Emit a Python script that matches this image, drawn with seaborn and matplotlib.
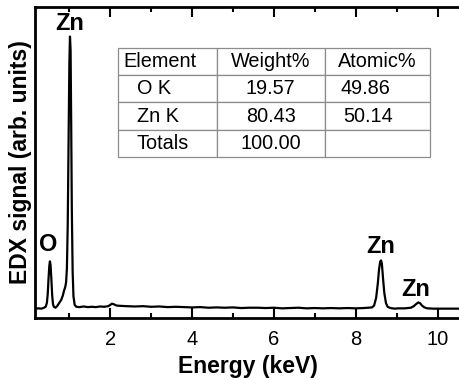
import numpy as np
import pandas as pd
import matplotlib
matplotlib.use("Agg")
import matplotlib.pyplot as plt
from matplotlib.ticker import MultipleLocator
import seaborn as sns

# ---- data ----
energy = [0.18, 0.25, 0.32, 0.38, 0.42, 0.45, 0.47, 0.49, 0.51, 0.525, 0.54, 0.56,
          0.58, 0.60, 0.62, 0.66, 0.70, 0.75, 0.80, 0.84, 0.87, 0.90, 0.92, 0.94,
          0.96, 0.98, 1.00, 1.015, 1.03, 1.045, 1.06, 1.08, 1.10, 1.13, 1.17, 1.25,
          1.35, 1.45, 1.55, 1.65, 1.75, 1.85, 1.95, 2.00, 2.04, 2.09, 2.15, 2.25,
          2.40, 2.60, 2.80, 3.00, 3.20, 3.40, 3.60, 3.80, 4.00, 4.20, 4.40, 4.60,
          4.80, 5.00, 5.20, 5.40, 5.60, 5.80, 6.00, 6.20, 6.40, 6.60, 6.80, 7.00,
          7.20, 7.40, 7.60, 7.80, 8.00, 8.20, 8.30, 8.40, 8.45, 8.50, 8.54, 8.57,
          8.60, 8.62, 8.64, 8.67, 8.70, 8.74, 8.78, 8.85, 8.95, 9.05, 9.20, 9.35,
          9.42, 9.48, 9.53, 9.57, 9.62, 9.68, 9.75, 9.90, 10.10, 10.30, 10.55]
intensity = [30, 31, 30, 33, 36, 48, 75, 125, 168, 182, 170, 125,
             72, 45, 36, 33, 38, 48, 58, 72, 88, 100, 115, 160,
             300, 560, 820, 905, 860, 620, 350, 150, 70, 42, 36, 35,
             37, 35, 36, 35, 37, 36, 38, 42, 46, 44, 40, 39,
             38, 37, 38, 36, 37, 35, 36, 35, 34, 35, 33, 34,
             33, 34, 32, 33, 33, 32, 33, 31, 32, 33, 31, 32,
             31, 32, 31, 32, 31, 32, 33, 34, 40, 65, 110, 155,
             182, 185, 175, 125, 80, 48, 36, 32, 30, 31, 31, 33,
             38, 45, 50, 48, 40, 34, 31, 30, 30, 30, 30]

peak_labels = ["Zn", "O", "Zn", "Zn"]
peak_x = [1.02, 0.48, 8.60, 9.47]
peak_y = [947, 236, 231, 93]

table_cols = ["Element", "Weight%", "Atomic%"]
elements = ["O K", "Zn K", "Totals"]
weight_pct = ["19.57", "80.43", "100.00"]
atomic_pct = ["49.86", "50.14", ""]

# ---- style ----
sns.set_theme(style="ticks")
plt.rcParams["font.family"] = ["Liberation Sans", "DejaVu Sans"]
plt.rcParams["text.color"] = "black"
plt.rcParams["axes.labelcolor"] = "black"
plt.rcParams["xtick.color"] = "black"

fig = plt.figure(figsize=(4.6, 3.8), dpi=100)
ax = fig.add_axes([0.0761, 0.1632, 0.9239, 0.8184])

df = pd.DataFrame({"Energy": energy, "Signal": intensity})
sns.lineplot(data=df, x="Energy", y="Signal", ax=ax, color="black", lw=1.6)

ax.set_xlim(0.16, 10.55)
ax.set_ylim(0, 1000)
ax.set_yticks([])
ax.xaxis.set_major_locator(MultipleLocator(2))
ax.xaxis.set_minor_locator(MultipleLocator(1))
ax.tick_params(axis="x", which="major", direction="in", length=7, width=1.5,
               top=True, labelsize=14.5, pad=9, colors="black")
ax.tick_params(axis="x", which="minor", direction="in", length=3.6, width=1.5,
               top=True, colors="black")
for s in ["left", "bottom", "top"]:
    ax.spines[s].set_linewidth(2)
    ax.spines[s].set_color("black")
ax.spines["right"].set_visible(False)

ax.set_xlabel("Energy (keV)", fontsize=16.5, fontweight="bold", labelpad=4,
              color="black")
ax.set_ylabel("EDX signal (arb. units)", fontsize=16.5, fontweight="bold",
              labelpad=2, color="black")

for lab, x, y in zip(peak_labels, peak_x, peak_y):
    ax.text(x, y, lab, ha="center", va="center", fontsize=17, fontweight="bold",
            color="black")

cell_text = [[e, w, a] for e, w, a in zip(elements, weight_pct, atomic_pct)]
tab = ax.table(cellText=cell_text, colLabels=table_cols, cellLoc="center",
               colWidths=[0.317, 0.346, 0.337],
               bbox=[0.195, 0.518, 0.734, 0.350])
tab.auto_set_font_size(False)
for (r, c), cell in tab.get_celld().items():
    cell.set_edgecolor("#8c8c8c")
    cell.set_linewidth(0.9)
    cell.set_facecolor("white")
    cell.get_text().set_fontsize(14.3)
    cell.get_text().set_color("black")
    if c == 0:
        cell._loc = "left"
        cell.get_text().set_ha("left")
        cell.PAD = 0.06 if r == 0 else 0.19
    elif c == 2 and r > 0:
        cell._loc = "left"
        cell.get_text().set_ha("left")
        cell.PAD = 0.15 if r == 1 else 0.18

fig.savefig("out.png", dpi=100)
